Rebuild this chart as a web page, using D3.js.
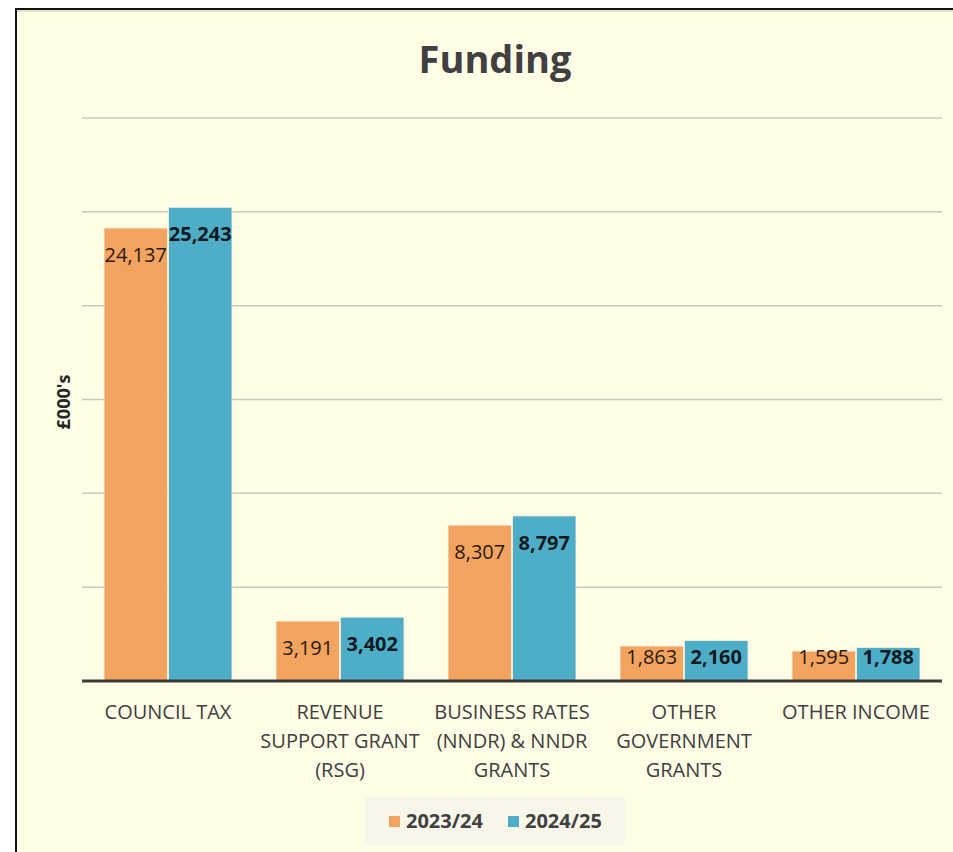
<!DOCTYPE html>
<html>
<head>
<meta charset="utf-8">
<script src="https://cdn.jsdelivr.net/npm/d3@7"></script>
<style>
  html, body { margin: 0; padding: 0; background: #ffffff; }
  svg { display: block; }
  text { font-family: "Open Sans", "Noto Sans", sans-serif; }
</style>
</head>
<body>
<svg id="chart" width="953" height="852"></svg>
<script>
// Funding by source, £000's
const categories = ["COUNCIL TAX", "REVENUE SUPPORT GRANT (RSG)", "BUSINESS RATES (NNDR) & NNDR GRANTS", "OTHER GOVERNMENT GRANTS", "OTHER INCOME"];
const categoryLines = [
  ["COUNCIL TAX"],
  ["REVENUE", "SUPPORT GRANT", "(RSG)"],
  ["BUSINESS RATES", "(NNDR) & NNDR", "GRANTS"],
  ["OTHER", "GOVERNMENT", "GRANTS"],
  ["OTHER INCOME"]
];
const seriesNames = ["2023/24", "2024/25"];
const values2023 = [24137, 3191, 8307, 1863, 1595];
const values2024 = [25243, 3402, 8797, 2160, 1788];
const gridTicks = [0, 5000, 10000, 15000, 20000, 25000, 30000];

const colors = { "2023/24": "#f2a35f", "2024/25": "#4eaec8" };
const bg = "#fffde6";

const svg = d3.select("#chart");

// Panel with a dark frame on the top and left edges
svg.append("rect")
  .attr("x", 16).attr("y", 9)
  .attr("width", 960).attr("height", 860)
  .attr("fill", bg)
  .attr("stroke", "#111").attr("stroke-width", 2);
svg.append("line")
  .attr("x1", 17).attr("x2", 953).attr("y1", 11).attr("y2", 11)
  .attr("stroke", "#e6e4c6").attr("stroke-width", 2);

const plot = { left: 82, right: 942, top: 118, bottom: 681 };

const x0 = d3.scaleBand()
  .domain(categories)
  .range([plot.left, plot.right])
  .padding(0);

const x1 = d3.scaleBand()
  .domain(seriesNames)
  .range([0, x0.bandwidth()])
  .paddingInner(0)
  .paddingOuter(1 / 3);

const y = d3.scaleLinear()
  .domain([0, 30000])
  .range([plot.bottom, plot.top]);

// Horizontal gridlines
svg.append("g")
  .selectAll("line")
  .data(gridTicks.filter(t => t > 0))
  .join("line")
  .attr("x1", plot.left).attr("x2", plot.right)
  .attr("y1", d => y(d)).attr("y2", d => y(d))
  .attr("stroke", "#c9c8b8")
  .attr("stroke-width", 1.5);

// Title
svg.append("text")
  .attr("x", 495).attr("y", 73)
  .attr("text-anchor", "middle")
  .attr("font-size", 38)
  .attr("font-weight", 700)
  .attr("fill", "#404040")
  .text("Funding");

// Y axis title
svg.append("text")
  .attr("transform", `translate(70, 402) rotate(-90)`)
  .attr("text-anchor", "middle")
  .attr("font-size", 18)
  .attr("font-weight", 700)
  .attr("fill", "#262626")
  .text("£000's");

const rows = categories.map((c, i) => ({
  category: c,
  items: [
    { series: "2023/24", value: values2023[i] },
    { series: "2024/25", value: values2024[i] }
  ]
}));

const groups = svg.append("g")
  .selectAll("g")
  .data(rows)
  .join("g")
  .attr("transform", d => `translate(${x0(d.category)},0)`);

// Bars
groups.selectAll("rect")
  .data(d => d.items)
  .join("rect")
  .attr("x", d => x1(d.series) + 0.5)
  .attr("width", x1.bandwidth() - 1)
  .attr("y", d => y(d.value))
  .attr("height", d => y(0) - y(d.value))
  .attr("fill", d => colors[d.series])
  .attr("stroke", "#fbf3dc")
  .attr("stroke-width", 0.8);

// Value labels, inside the bar end
groups.selectAll("text.value")
  .data(d => d.items)
  .join("text")
  .attr("class", "value")
  .attr("x", d => x1(d.series) + x1.bandwidth() / 2)
  .attr("y", d => Math.min(y(d.value) + 27, y(0) - 24))
  .attr("dy", "0.36em")
  .attr("text-anchor", "middle")
  .attr("font-size", 20)
  .attr("font-weight", d => d.series === "2024/25" ? 700 : 400)
  .attr("fill", d => d.series === "2024/25" ? "#0f1a22" : "#2a1a10")
  .text(d => d3.format(",")(d.value));

// Baseline
svg.append("line")
  .attr("x1", plot.left).attr("x2", plot.right)
  .attr("y1", y(0)).attr("y2", y(0))
  .attr("stroke", "#3a3a3a")
  .attr("stroke-width", 3);

// Category labels
const catLabels = svg.append("g")
  .selectAll("text")
  .data(categories)
  .join("text")
  .attr("x", d => x0(d) + x0.bandwidth() / 2)
  .attr("y", 719)
  .attr("text-anchor", "middle")
  .attr("font-size", 20)
  .attr("fill", "#404040");
catLabels.each(function(d, i) {
  d3.select(this).selectAll("tspan")
    .data(categoryLines[i])
    .join("tspan")
    .attr("x", x0(d) + x0.bandwidth() / 2)
    .attr("dy", (t, j) => j === 0 ? 0 : 29)
    .text(t => t);
});

// Legend
const legend = svg.append("g");
legend.append("rect")
  .attr("x", 365).attr("y", 797)
  .attr("width", 260).attr("height", 48)
  .attr("fill", "#f8f6e9");
const legendItems = legend.selectAll("g")
  .data(seriesNames)
  .join("g")
  .attr("transform", (d, i) => `translate(${389 + i * 119}, 0)`);
legendItems.append("rect")
  .attr("x", 0).attr("y", 816)
  .attr("width", 11).attr("height", 11)
  .attr("fill", d => colors[d]);
legendItems.append("text")
  .attr("x", 17).attr("y", 828)
  .attr("font-size", 20)
  .attr("font-weight", 700)
  .attr("fill", "#404040")
  .text(d => d);
</script>
</body>
</html>
